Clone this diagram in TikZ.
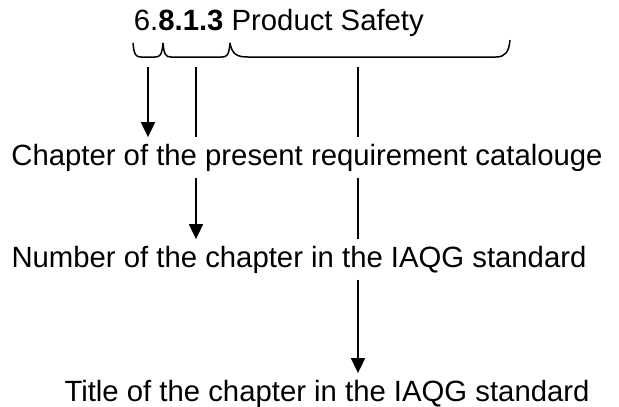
\documentclass[tikz,border=0pt]{standalone}
\usepackage{fontspec}
\setmainfont{Liberation Sans}
\usetikzlibrary{arrows.meta}
\begin{document}
\begin{tikzpicture}[x=1pt, y=-1pt, line width=1.8pt,
	lbl/.style={font=\fontsize{29.3}{34}\selectfont, anchor=base, text height=22pt, text depth=7pt, inner xsep=0pt, inner ysep=5pt},
	klammer/.style={line width=1.5pt},
	pfeil/.style={-{Triangle[length=15pt,width=14pt]}}]
	\useasboundingbox (0,0) rectangle (619,407);
	
	% Nummer und Titel
	\node[lbl, anchor=base west] (head) at (133,30) {6.\textbf{8.1.3} Product Safety};
	
	% Klammern unter der Nummer
	\draw[klammer] (133,43) .. controls (134,55) and (136,57) .. (141,57) -- (155,57) .. controls (160,57) and (162,55) .. (163,43);
	\draw[klammer] (163,43) .. controls (164,55) and (166,57) .. (171,57) -- (222,57) .. controls (227,57) and (229,55) .. (230,43);
	\draw[klammer] (230,43) .. controls (232,55) and (238,57) .. (248,57) -- (496,57) .. controls (505,57) and (509,52) .. (510,40);
	
	% Erklaerungen
	\node[lbl] (chap) at (307,165) {Chapter of the present requirement catalouge};
	\node[lbl] (num) at (299,267) {Number of the chapter in the IAQG standard};
	\node[lbl] (ttl) at (327,401) {Title of the chapter in the IAQG standard};
	
	% Startpunkte der Linien
	\coordinate (s1) at (148,67);
	\coordinate (s2) at (196,67);
	\coordinate (s3) at (358,67);
	
	% Linien und Pfeile
	\draw[pfeil] (s1) -- (s1 |- chap.north);
	\draw (s2) -- (s2 |- chap.north);
	\draw[pfeil] (s2 |- chap.south) -- (s2 |- num.north);
	\draw (s3) -- (s3 |- chap.north);
	\draw (s3 |- chap.south) -- (s3 |- num.north);
	\draw[pfeil] (s3 |- num.south) -- (s3 |- ttl.north);
\end{tikzpicture}
\end{document}
